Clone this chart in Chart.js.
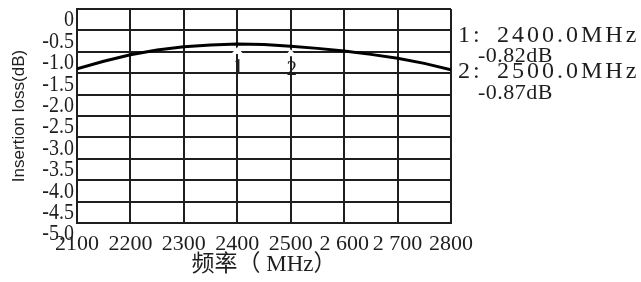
<!DOCTYPE html>
<html>
<head>
<meta charset="utf-8">
<script src="https://cdn.jsdelivr.net/npm/chart.js@4/dist/chart.umd.min.js"></script>
<style>
    html, body { margin: 0; padding: 0; background: #fff; }
    #wrap { width: 641px; height: 282px; }
</style>
</head>
<body>
<div id="wrap"><canvas id="chart" width="641" height="282"></canvas></div>
<script>
// Frequency sweep (MHz) and measured insertion loss (dB)
const freqs = [2100, 2150, 2200, 2250, 2300, 2350, 2400, 2450, 2500, 2550, 2600, 2650, 2700, 2750, 2800];
const loss = [-1.40, -1.22, -1.07, -0.96, -0.88, -0.84, -0.82, -0.83, -0.87, -0.92, -0.98, -1.06, -1.15, -1.27, -1.42];

// Markers
const markerFreq = [2400, 2500];
const markerLoss = [-0.82, -0.87];
const markerNames = ['1', '2'];

// Tick labels as printed on the original
const xTickLabels = ['2100', '2200', '2300', '2400', '2500', '2 600', '2 700', '2800'];
const yTickLabels = ['0', '-0.5', '-1.0', '-1.5', '-2.0', '-2.5', '-3.0', '-3.5', '-4.0', '-4.5', '-5.0'];

const serif = "'Liberation Serif', 'DejaVu Serif', serif";
const textColor = '#1e1e1e';

// Draws y tick labels (tall glyphs), markers and the marker readout
const overlayPlugin = {
    id: 'overlay',
    afterDraw(chart) {
        const ctx = chart.ctx;
        const x = chart.scales.x;
        const y = chart.scales.y;
        const area = chart.chartArea;
        ctx.save();

        // y tick labels, stretched vertically
        ctx.fillStyle = textColor;
        ctx.font = '20px ' + serif;
        ctx.textAlign = 'right';
        ctx.textBaseline = 'top';
        y.ticks.forEach(t => {
            const py = y.getPixelForValue(t.value);
            const label = yTickLabels[Math.round(-t.value / 0.5)];
            ctx.save();
            ctx.translate(area.left - 3, py - 1);
            ctx.scale(1, 1.2);
            ctx.fillText(label, 0, 0);
            ctx.restore();
        });

        // marker notches and numbers
        markerFreq.forEach((f, i) => {
            const px = x.getPixelForValue(f);
            const py = y.getPixelForValue(markerLoss[i]);
            ctx.fillStyle = '#fff';
            ctx.beginPath();
            ctx.moveTo(px, py + 3);
            ctx.lineTo(px - 6, py + 10);
            ctx.lineTo(px + 6, py + 10);
            ctx.closePath();
            ctx.fill();
            ctx.fillStyle = textColor;
            ctx.font = '21px ' + serif;
            ctx.textAlign = 'center';
            ctx.textBaseline = 'alphabetic';
            ctx.fillText(markerNames[i], px + 1, py + 29);
        });

        // marker readout on the right
        ctx.textAlign = 'left';
        ctx.textBaseline = 'alphabetic';
        markerFreq.forEach((f, i) => {
            const top = area.top + 33 + i * 36;
            ctx.font = '24px ' + serif;
            ctx.letterSpacing = '3px';
            ctx.fillText(markerNames[i] + ':', area.right + 7, top);
            ctx.fillText(f.toFixed(1) + 'MHz', area.right + 46, top);
            ctx.font = '22px ' + serif;
            ctx.letterSpacing = '0.5px';
            ctx.fillText(markerLoss[i].toFixed(2) + 'dB', area.right + 27, top + 20 + i);
        });
        ctx.letterSpacing = '0px';
        ctx.restore();
    }
};

const ctx = document.getElementById('chart').getContext('2d');
new Chart(ctx, {
    type: 'line',
    data: {
        datasets: [{
            data: freqs.map((f, i) => ({ x: f, y: loss[i] })),
            borderColor: '#000',
            borderWidth: 3,
            pointRadius: 0,
            tension: 0,
            fill: false
        }]
    },
    options: {
        responsive: false,
        animation: false,
        layout: { padding: { top: 9, right: 190, left: 0, bottom: 0 } },
        plugins: {
            legend: { display: false },
            tooltip: { enabled: false }
        },
        scales: {
            x: {
                type: 'linear',
                min: 2100,
                max: 2800,
                afterFit: scale => { scale.height = 59; },
                afterBuildTicks: scale => {
                    scale.ticks = xTickLabels.map((l, i) => ({ value: 2100 + i * 100 }));
                },
                ticks: {
                    autoSkip: false,
                    maxRotation: 0,
                    padding: 8,
                    color: textColor,
                    font: { family: serif, size: 22 },
                    callback: (v, i) => xTickLabels[i]
                },
                grid: { color: '#1e1e1e', lineWidth: 2, drawTicks: false },
                border: { color: '#1e1e1e', width: 2 },
                title: {
                    display: true,
                    text: '频率（ MHz）',
                    color: textColor,
                    font: { family: "'Liberation Serif', 'Noto Sans CJK SC', serif", size: 23 },
                    padding: { top: 0, bottom: 3 }
                }
            },
            y: {
                min: -5,
                max: 0,
                afterFit: scale => { scale.width = 77; },
                afterBuildTicks: scale => {
                    scale.ticks = yTickLabels.map((l, i) => ({ value: -i * 0.5 }));
                },
                ticks: { display: false },
                grid: { color: '#1e1e1e', lineWidth: 2, drawTicks: false },
                border: { color: '#1e1e1e', width: 2 },
                title: {
                    display: true,
                    text: 'Insertion loss(dB)',
                    color: textColor,
                    font: { family: "'Liberation Sans', Arial, sans-serif", size: 17 },
                    padding: { top: 9, bottom: 0 }
                }
            }
        }
    },
    plugins: [overlayPlugin]
});
</script>
</body>
</html>
